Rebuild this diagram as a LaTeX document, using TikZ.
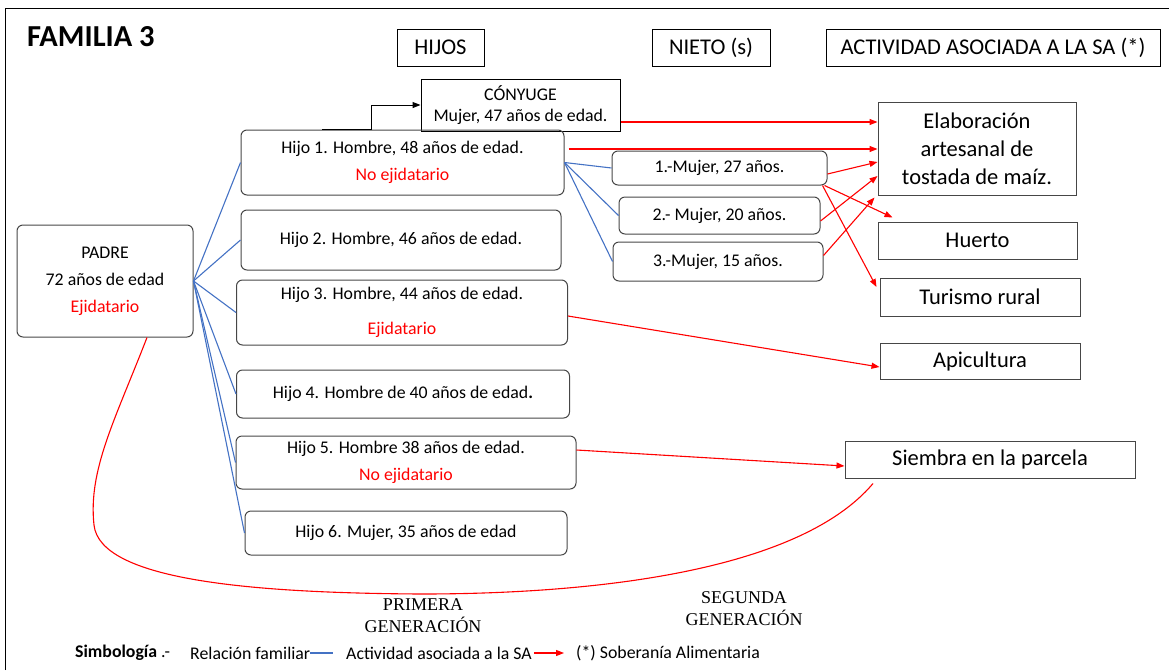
\documentclass[tikz,border=0pt]{standalone}
\usepackage{fontspec}
\setmainfont{Carlito}
\newfontfamily\genfont{Liberation Serif}
\usetikzlibrary{arrows.meta, calc}
\definecolor{relblue}{RGB}{68,114,196}
\definecolor{boxgray}{RGB}{70,70,70}

\begin{document}
\begin{tikzpicture}[
    x=1pt, y=-1pt,
    every node/.style={font=\fontsize{17.8}{27}\selectfont, inner sep=0pt},
    hdr/.style={draw, line width=1pt, minimum height=37pt,
                font=\fontsize{22.5}{27}\selectfont},
    person/.style={draw=boxgray, line width=1pt, rounded corners=6pt, align=center},
    act/.style={draw=boxgray, line width=1pt, align=center, minimum height=37pt,
                font=\fontsize{22.5}{28}\selectfont},
    rel/.style={draw=relblue, line width=1.1pt},
    sa/.style={draw=red, line width=1.1pt, -{Triangle[length=8pt,width=6pt]}},
    gen/.style={align=center, font=\genfont\fontsize{18}{22}\selectfont}
  ]
    \useasboundingbox (0,0) rectangle (1169,670);
    \draw[line width=1.6pt] (5.5,670) -- (5.5,8.5) -- (1169,8.5);

    \node[anchor=base west, font=\bfseries\fontsize{30.5}{31}\selectfont] (fam) at (27,46) {FAMILIA 3};
    \node[hdr, minimum width=87pt] (hijos) at (440.5,47.5) {HIJOS};
    \node[hdr, minimum width=118pt] (nietos) at (711,47.5) {NIETO (s)};
    \node[hdr, minimum width=334pt] (actsa) at (993,47.5) {ACTIVIDAD ASOCIADA A LA SA (*)};

    % primera generacion
    \node[person, minimum width=176pt, minimum height=112pt] (padre) at (105,281)
        {PADRE\\72 años de edad\\\textcolor{red}{Ejidatario}};
    \node[draw, line width=1pt, align=center, minimum width=199pt, minimum height=52pt,
          font=\fontsize{17.8}{21}\selectfont] (conyuge) at (520.5,105)
        {CÓNYUGE\\Mujer, 47 años de edad.};
    \node[person, minimum width=323pt, minimum height=65pt] (hijo1) at (402.5,162.5)
        {Hijo 1. Hombre, 48 años de edad.\\\textcolor{red}{No ejidatario}};
    \node[person, minimum width=320pt, minimum height=60pt] (hijo2) at (401,240)
        {Hijo 2. Hombre, 46 años de edad.};
    \node[person, minimum width=331pt, minimum height=65pt] (hijo3) at (402,312.5)
        {Hijo 3. Hombre, 44 años de edad.\\[8pt]\textcolor{red}{Ejidatario}};
    \node[person, minimum width=333pt, minimum height=48pt] (hijo4) at (403,394)
        {Hijo 4. Hombre de 40 años de edad\textbf{.}};
    \node[person, minimum width=340pt, minimum height=53pt] (hijo5) at (406,462.5)
        {Hijo 5. Hombre 38 años de edad.\\\textcolor{red}{No ejidatario}};
    \node[person, minimum width=322pt, minimum height=44pt] (hijo6) at (406,533)
        {Hijo 6. Mujer, 35 años de edad};

    % segunda generacion
    \node[person, minimum width=215pt, minimum height=34pt] (nieto1) at (719.5,168) {1.-Mujer, 27 años.};
    \node[person, minimum width=201pt, minimum height=37pt] (nieto2) at (719.5,215.5) {2.- Mujer, 20 años.};
    \node[person, minimum width=210pt, minimum height=39pt] (nieto3) at (718,261.5) {3.-Mujer, 15 años.};

    % actividades
    \node[act, minimum width=198pt, minimum height=93pt] (elab) at (977,148.5)
        {Elaboración\\artesanal de\\tostada de maíz.};
    \node[act, minimum width=199pt] (huerto) at (977.5,240.5) {Huerto};
    \node[act, minimum width=200pt, minimum height=38pt] (turismo) at (980,297) {Turismo rural};
    \node[act, minimum width=200pt, minimum height=36pt] (apic) at (980,361) {Apicultura};
    \node[act, minimum width=290pt] (siembra) at (990,459.5) {Siembra en la parcela};

    \node[gen] (gen1) at (423,616) {PRIMERA\\GENERACIÓN};
    \node[gen] (gen2) at (744,608.5) {SEGUNDA\\GENERACIÓN};

    % relacion familiar
    \foreach \h in {hijo1,hijo2,hijo3,hijo4,hijo5,hijo6}
        \draw[rel] (padre.east) -- (\h.west);
    \foreach \n in {nieto1,nieto2,nieto3}
        \draw[rel] (hijo1.east) -- (\n.west);
    \draw[line width=1pt, -{Triangle[length=8pt,width=6pt]}]
        ([xshift=-80.5pt]hijo1.north) -- ++(49,0) |- (conyuge.west);

    % actividad asociada a la SA
    \coordinate (c1) at ([yshift=-17pt]conyuge.east);
    \coordinate (h1) at ([xshift=4pt,yshift=13.5pt]hijo1.east);
    \draw[sa] (c1) -- (elab.west |- c1);
    \draw[sa] (h1) -- (elab.west |- h1);
    \draw[sa] ([yshift=-6pt]nieto1.east) -- ([yshift=-13.5pt]elab.west);
    \draw[sa] ([yshift=-5.5pt]nieto2.east) -- ([yshift=-27.5pt]elab.west);
    \draw[sa] ([yshift=6pt]nieto3.east) -- ([xshift=-3pt,yshift=-2pt]elab.south west);
    \draw[sa] ([xshift=-3pt]nieto1.south east) -- ([xshift=15pt,yshift=4pt]huerto.north west);
    \draw[sa] ([xshift=-5pt]nieto1.south east) -- ([xshift=-3pt,yshift=10pt]turismo.west);
    \draw[sa] ([yshift=-3.5pt]hijo3.east) -- ([yshift=-6pt]apic.west);
    \draw[sa] ([yshift=12.5pt]hijo5.east) -- ([yshift=-6.5pt]siembra.west);
    \draw[red, line width=1.1pt] ([xshift=42pt]padre.south)
        .. controls (115,420) and (88,470) .. (94,525)
        .. controls (100,580) and (250,593) .. (421,594)
        .. controls (600,594) and (800,570) .. ([xshift=-117pt,yshift=-5pt]siembra.south);

    % simbologia
    \node[anchor=west] (simb) at (75,653) {\textbf{Simbología} .-};
    \node[anchor=west] (relfam) at (190,653) {Relación familiar};
    \node[anchor=west] (actleg) at (346,653) {Actividad asociada a la SA};
    \node[anchor=west] (sober) at (576,653) {(*) Soberanía Alimentaria};
    \draw[rel] (relfam.east) -- ([xshift=-13pt]actleg.west);
    \draw[sa] ([xshift=2pt]actleg.east) -- ([xshift=-12pt]sober.west);
\end{tikzpicture}
\end{document}
